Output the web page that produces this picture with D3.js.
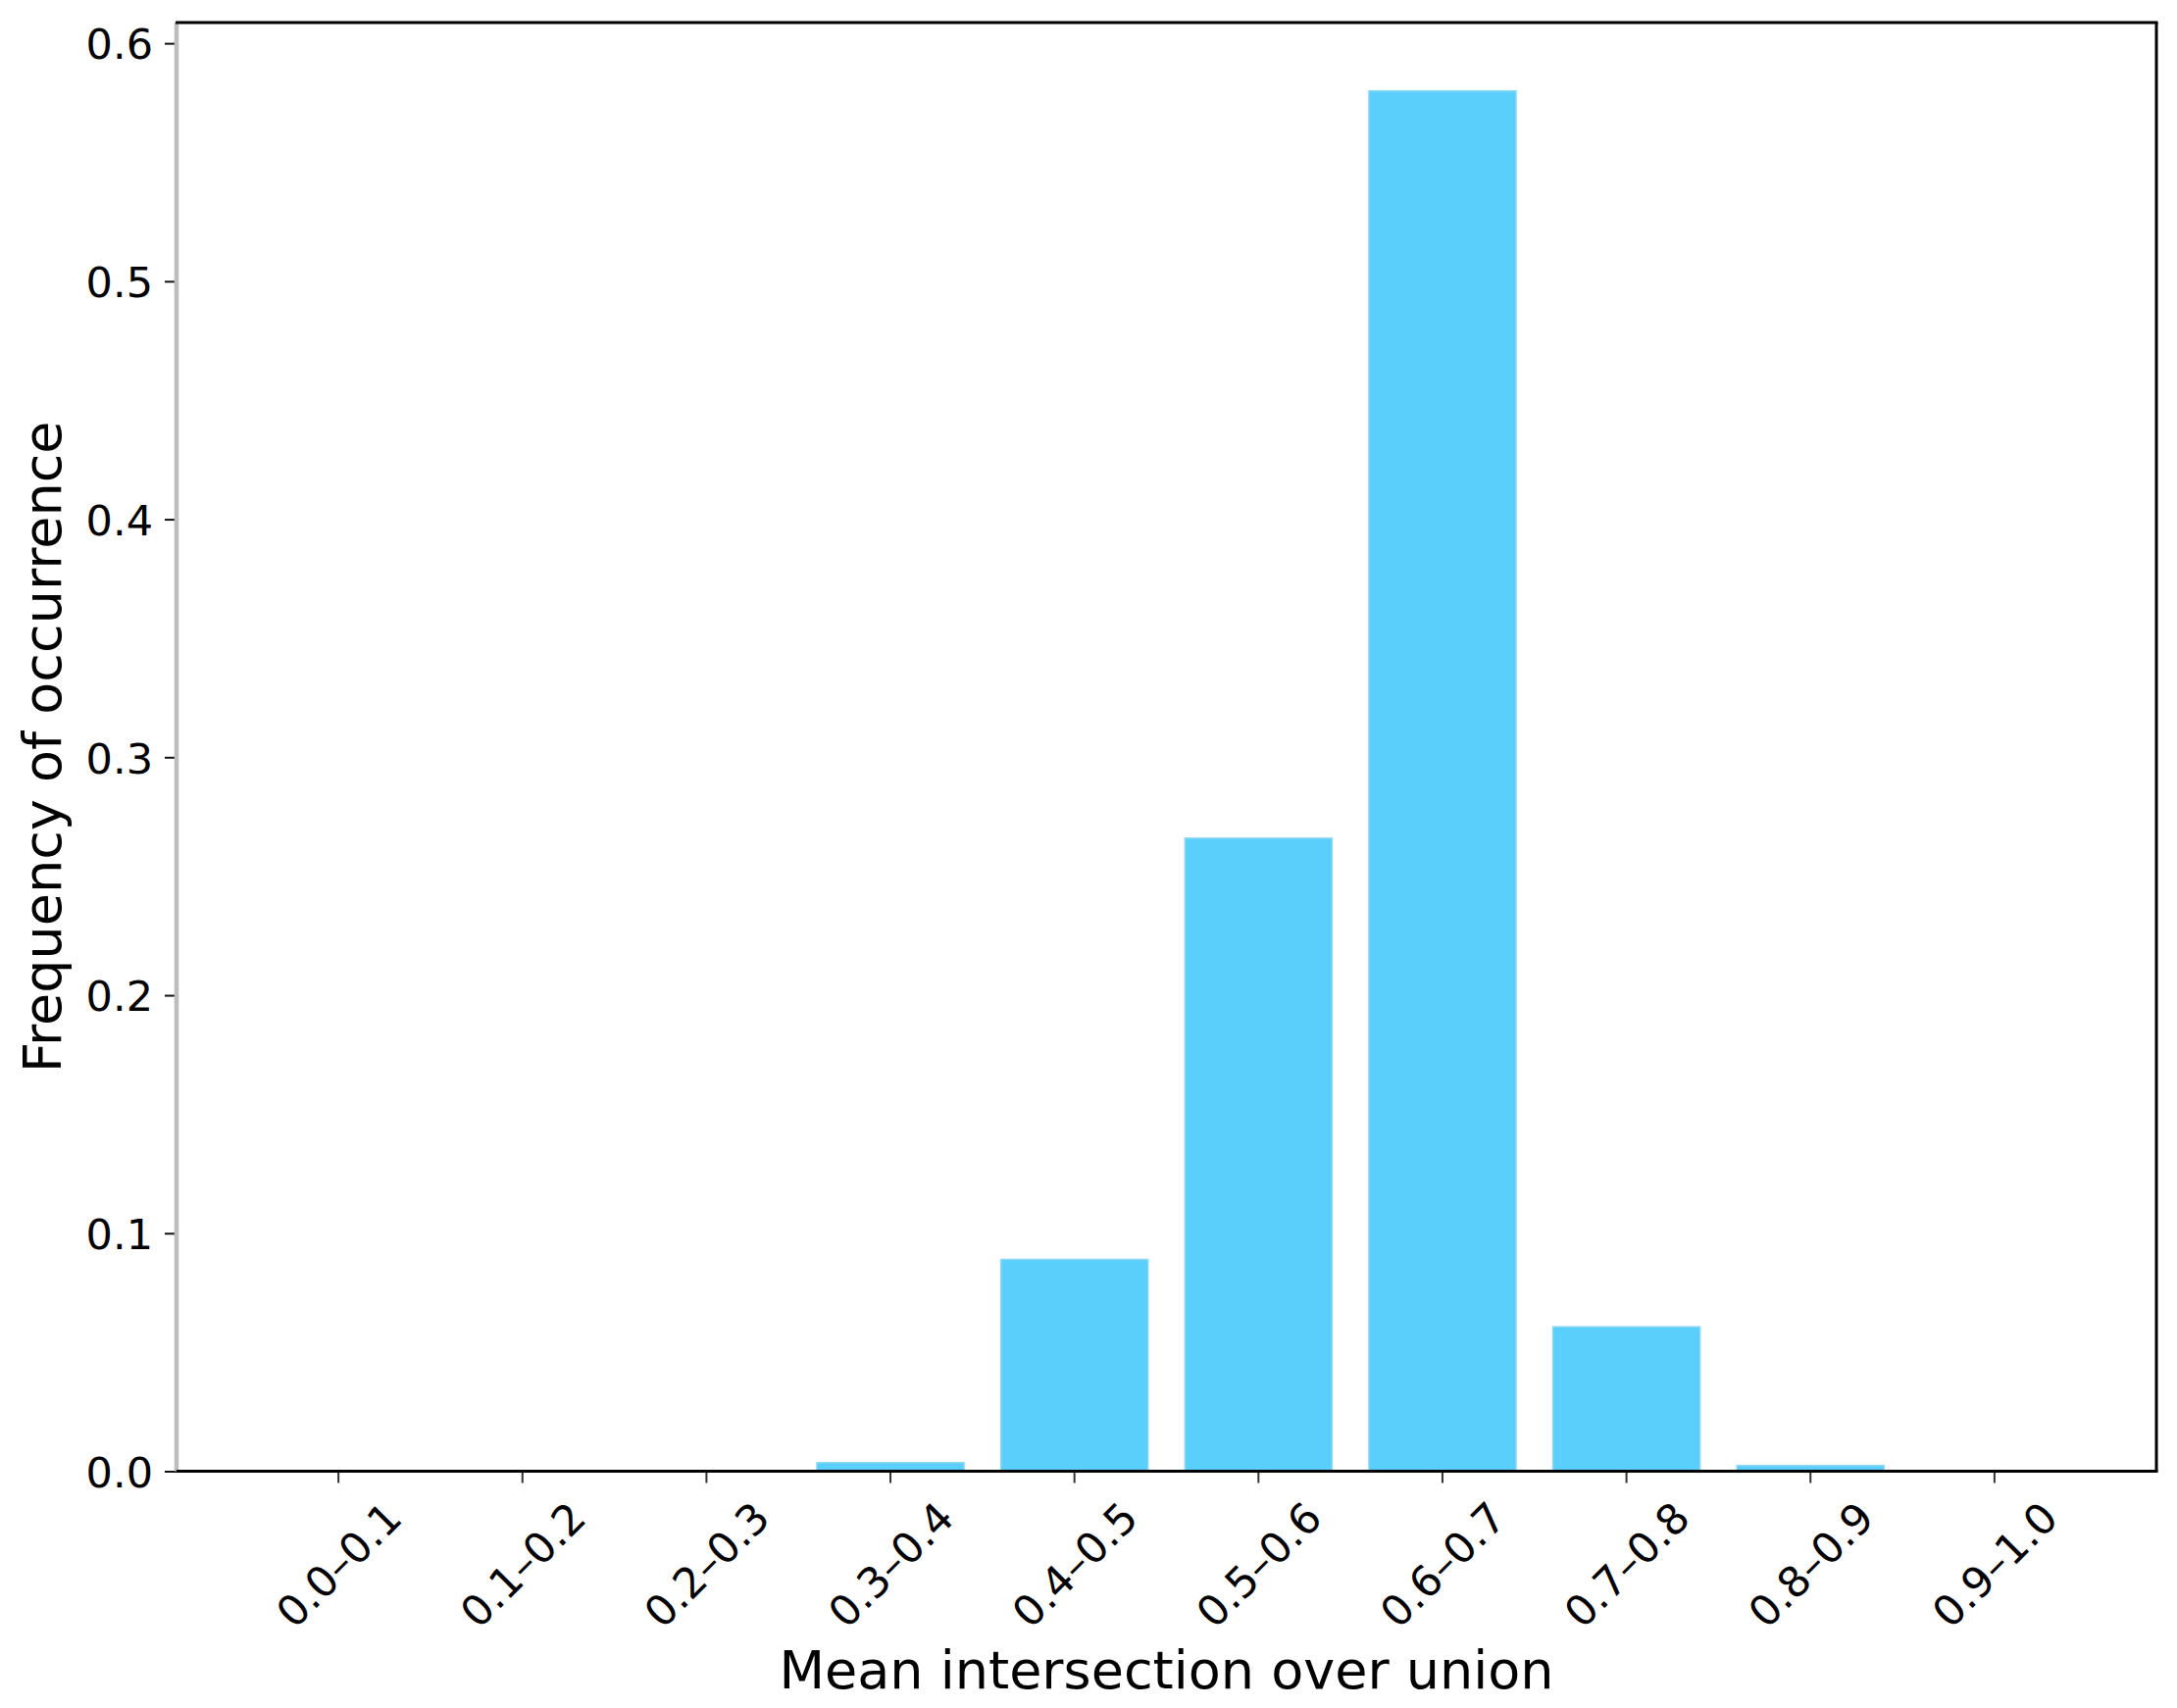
<!DOCTYPE html>
<html>
<head>
<meta charset="utf-8">
<script src="https://cdn.jsdelivr.net/npm/d3@7"></script>
<style>
  html, body { margin: 0; padding: 0; background: #ffffff; }
  svg { display: block; }
  text { font-family: "DejaVu Sans", sans-serif; fill: #000; }
</style>
</head>
<body>
<svg id="chart" width="2220" height="1742"></svg>
<script>
const categories = ["0.0–0.1","0.1–0.2","0.2–0.3","0.3–0.4","0.4–0.5","0.5–0.6","0.6–0.7","0.7–0.8","0.8–0.9","0.9–1.0"];
const frequencies = [0, 0, 0, 0.0036, 0.0890, 0.2660, 0.5800, 0.0607, 0.0024, 0];
const yTicks = [0, 0.1, 0.2, 0.3, 0.4, 0.5, 0.6];
const xLabel = "Mean intersection over union";
const yLabel = "Frequency of occurrence";

const W = 2220, H = 1742;
const L = 180, R = 2199, T = 23, B = 1500.5;

const svg = d3.select("#chart");
svg.append("rect").attr("x",0).attr("y",0).attr("width",W).attr("height",H).attr("fill","#fff");

const x = d3.scaleBand().domain(categories).range([L, R]).paddingInner(0.2).paddingOuter(0.48);
const y = d3.scaleLinear().domain([0, 0.6087]).range([B, T]);

// bars
svg.append("g").selectAll("rect").data(categories).join("rect")
  .attr("x", d => x(d))
  .attr("width", x.bandwidth())
  .attr("y", (d,i) => y(frequencies[i]))
  .attr("height", (d,i) => B - y(frequencies[i]))
  .attr("fill", "#5BCFFB")
  .attr("stroke", "#8fd8f2")
  .attr("stroke-width", 1.5);

// y axis ticks
const yAxis = d3.axisLeft(y).tickValues(yTicks).tickFormat(d3.format(".1f")).tickSize(12).tickPadding(14);
const gy = svg.append("g").attr("transform", `translate(${L},0)`).call(yAxis);
gy.select(".domain").remove();
gy.selectAll(".tick line").attr("stroke", "#111").attr("stroke-width", 2);
gy.selectAll(".tick text")
  .attr("font-size", 43)
  .attr("dy", null)
  .attr("dominant-baseline", null)
  .attr("y", 15.7)
  .attr("x", -24);

// x axis ticks
const xAxis = d3.axisBottom(x).tickSize(12).tickFormat(d => d);
const gx = svg.append("g").attr("transform", `translate(0,${B})`).call(xAxis);
gx.select(".domain").remove();
gx.selectAll(".tick line").attr("stroke", "#333").attr("stroke-width", 2);
gx.selectAll(".tick text")
  .attr("font-size", 43)
  .attr("text-anchor", "middle")
  .attr("dy", null)
  .attr("y", 0)
  .attr("transform", "translate(0,95) rotate(-45) translate(0,15.7)");

// spines
svg.append("line").attr("x1", L).attr("x2", L).attr("y1", T).attr("y2", B)
  .attr("stroke", "#bdbdbd").attr("stroke-width", 4.5);
svg.append("line").attr("x1", L - 1).attr("x2", R + 1.5).attr("y1", T).attr("y2", T)
  .attr("stroke", "#000").attr("stroke-width", 3);
svg.append("line").attr("x1", R).attr("x2", R).attr("y1", T).attr("y2", B)
  .attr("stroke", "#000").attr("stroke-width", 3);
svg.append("line").attr("x1", L).attr("x2", R + 1.5).attr("y1", B).attr("y2", B)
  .attr("stroke", "#000").attr("stroke-width", 3);

// axis labels
svg.append("text")
  .attr("x", (L + R) / 2).attr("y", 1722)
  .attr("text-anchor", "middle")
  .attr("font-size", 54)
  .text(xLabel);

svg.append("text")
  .attr("transform", `translate(62,${(T + B) / 2}) rotate(-90)`)
  .attr("text-anchor", "middle")
  .attr("font-size", 54)
  .text(yLabel);
</script>
</body>
</html>
